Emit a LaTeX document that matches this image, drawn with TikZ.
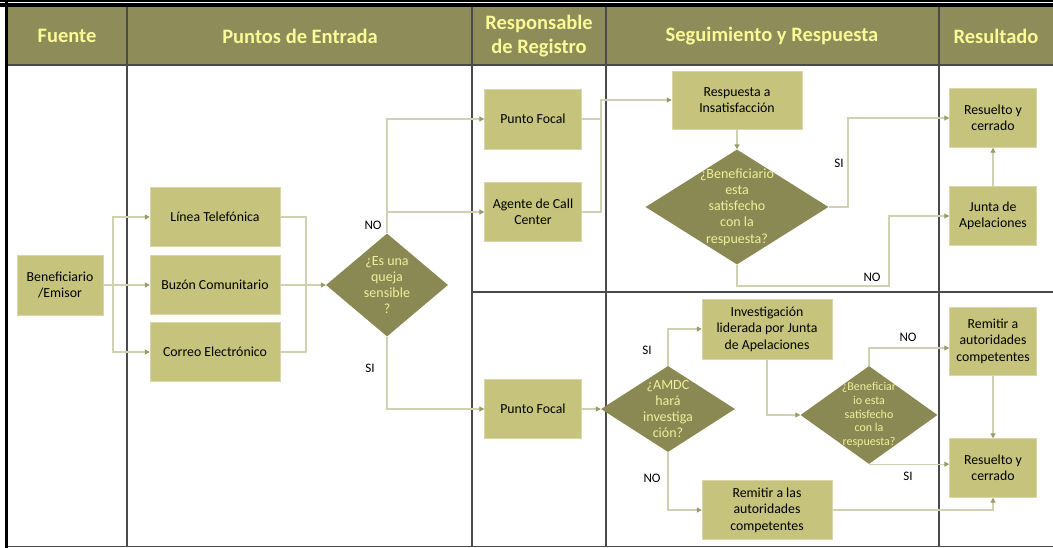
\documentclass[tikz,border=0pt]{standalone}
\usepackage{fontspec}
\setmainfont{Carlito}
\usetikzlibrary{shapes.geometric,arrows.meta}
\definecolor{hdrfill}{HTML}{8E8C59}
\definecolor{hdrtext}{HTML}{FAFA96}
\definecolor{boxfill}{HTML}{C6C47C}
\definecolor{boxline}{HTML}{D8D6AA}
\definecolor{decfill}{HTML}{8A8954}
\definecolor{dectext}{HTML}{F0EF9A}
\definecolor{linecol}{HTML}{CFD1B2}
\definecolor{tipcol}{HTML}{9A9A68}
\definecolor{gridcol}{HTML}{4A4A4A}

\begin{document}
\begin{tikzpicture}[x=1pt,y=-1pt,
  box/.style={draw=boxline,fill=boxfill,align=center,inner sep=2pt,font=\fontsize{13.8}{16.5}\selectfont},
  dec/.style={diamond,fill=decfill,inner sep=0pt},
  dectxt/.style={text=dectext,align=center,font=\fontsize{14}{16.2}\selectfont},
  lbl/.style={font=\fontsize{13}{16}\selectfont},
  hdr/.style={text=hdrtext,align=center,font=\fontsize{20.5}{24}\selectfont\bfseries},
  con/.style={draw=linecol,line width=1.2pt},
  arr/.style={con,-{Triangle[length=5pt,width=5pt,color=tipcol,fill=tipcol]}}]
  \useasboundingbox (0,0) rectangle (1053,548);
  % frame and lanes
  \fill[black] (0,0) rectangle (1053,1.6);
  \fill[black] (0,3.2) rectangle (1053,6.8);
  \fill[hdrfill] (8,7) rectangle (1053,65);
  \fill[black] (5,0) rectangle (8,548);
  \draw[gridcol,line width=1.6pt] (8,65) -- (1053,65);
  \draw[gridcol,line width=1.8pt] (8,546.5) -- (1053,546.5);
  \draw[gridcol,line width=1.5pt] (127,7) -- (127,546);
  \draw[gridcol,line width=1.5pt] (472,7) -- (472,546);
  \draw[gridcol,line width=1.5pt] (606,7) -- (606,546);
  \draw[gridcol,line width=1.5pt] (939,7) -- (939,546);
  \draw[gridcol,line width=1.5pt] (472,292) -- (1053,292);
  % headers
  \node[hdr] (hfue) at (67,36) {Fuente};
  \node[hdr] (hpun) at (300,36) {Puntos de Entrada};
  \node[hdr] (hres) at (539,36) {Responsable\\de Registro};
  \node[hdr] (hseg) at (772,36) {Seguimiento y Respuesta};
  \node[hdr] (hrsl) at (996,36) {Resultado};
  % boxes
  \node[box,minimum width=86pt,minimum height=60pt] (ben) at (60,285) {Beneficiario\\/Emisor};
  \node[box,minimum width=130pt,minimum height=59pt] (tel) at (215,217) {Línea Telefónica};
  \node[box,minimum width=130pt,minimum height=59pt] (buz) at (215,285) {Buzón Comunitario};
  \node[box,minimum width=130pt,minimum height=59pt] (cor) at (215,352) {Correo Electrónico};
  \node[box,minimum width=97pt,minimum height=60pt] (pfa) at (533,119) {Punto Focal};
  \node[box,minimum width=97pt,minimum height=59pt] (age) at (533,212) {Agente de Call\\Center};
  \node[box,minimum width=97pt,minimum height=59pt] (pfb) at (533,409) {Punto Focal};
  \node[box,minimum width=130pt,minimum height=58pt] (res) at (737,100) {Respuesta a\\Insatisfacción};
  \node[box,minimum width=130pt,minimum height=60pt] (inv) at (767,329) {Investigación\\liderada por Junta\\de Apelaciones};
  \node[box,minimum width=130pt,minimum height=59pt] (rem) at (767,510) {Remitir a las\\autoridades\\competentes};
  \node[box,minimum width=87pt,minimum height=59pt] (rc1) at (993,118) {Resuelto y\\cerrado};
  \node[box,minimum width=87pt,minimum height=59pt] (jun) at (993,216) {Junta de\\Apelaciones};
  \node[box,minimum width=87pt,minimum height=68pt] (rma) at (993,341) {Remitir a\\autoridades\\competentes};
  \node[box,minimum width=87pt,minimum height=59pt] (rc2) at (993,468) {Resuelto y\\cerrado};
  % decisions
  \node[dec,minimum width=122pt,minimum height=103pt,label={[dectxt]center:{¿Es una\\queja\\sensible\\?}}] (q1) at (387,285) {};
  \node[dec,minimum width=183pt,minimum height=115pt,label={[dectxt]center:{¿Beneficiario\\esta\\satisfecho\\con la\\respuesta?}}] (q2) at (737,207) {};
  \node[dec,minimum width=134pt,minimum height=86pt,label={[dectxt]center:{¿AMDC\\hará\\investiga\\ción?}}] (q3) at (668,409) {};
  \node[dec,minimum width=137pt,minimum height=98pt,label={[dectxt,font=\fontsize{12}{13.6}\selectfont]center:{¿Beneficiar\\io esta\\satisfecho\\con la\\respuesta?}}] (q4) at (869,415) {};
  % joints
  \coordinate (spl) at (113,285);
  \coordinate (mrg) at (306,285);
  \coordinate (jn1) at (601,100);
  \coordinate (k1) at (848,118);
  \coordinate (k2) at (889,286);
  % connectors
  \draw[arr] (ben.east) -- (buz.west);
  \draw[arr] (spl) |- (tel.west);
  \draw[arr] (spl) |- (cor.west);
  \draw[con] (tel.east) -| (mrg);
  \draw[con] (cor.east) -| (mrg);
  \draw[arr] (buz.east) -- (q1.west);
  \draw[arr] (q1.north) |- (pfa.west);
  \draw[arr] (q1.north) |- (age.west);
  \draw[arr] (q1.south) |- (pfb.west);
  \draw[arr] (pfa.east) -| (jn1) -- (res.west);
  \draw[con] (age.east) -| (jn1);
  \draw[arr] (res.south) -- (q2.north);
  \draw[arr] (q2.east) -| (k1) -- (rc1.west);
  \draw[arr] (q2.south) |- (k2) |- (jun.west);
  \draw[arr] (jun.north) -- (rc1.south);
  \draw[arr] (pfb.east) -- (q3.west);
  \draw[arr] (q3.north) |- (inv.west);
  \draw[arr] (q3.south) |- (rem.west);
  \draw[arr] (inv.south) |- (q4.west);
  \draw[arr] (q4.north) |- ([yshift=-7pt]rma.west);
  \draw[arr] (q4.south) -- (q4.south -| rc2.west);
  \draw[arr] (rma.south) -- (rc2.north);
  \draw[arr] (rem.east) -| (rc2.south);
  % branch labels
  \node[lbl] (lno1) at (373,225) {NO};
  \node[lbl] (lsi1) at (370,368) {SI};
  \node[lbl] (lsi2) at (839,163) {SI};
  \node[lbl] (lno2) at (872,277) {NO};
  \node[lbl] (lsi3) at (647,350) {SI};
  \node[lbl] (lno3) at (652,478) {NO};
  \node[lbl] (lno4) at (908,337) {NO};
  \node[lbl] (lsi4) at (908,476) {SI};
\end{tikzpicture}
\end{document}
